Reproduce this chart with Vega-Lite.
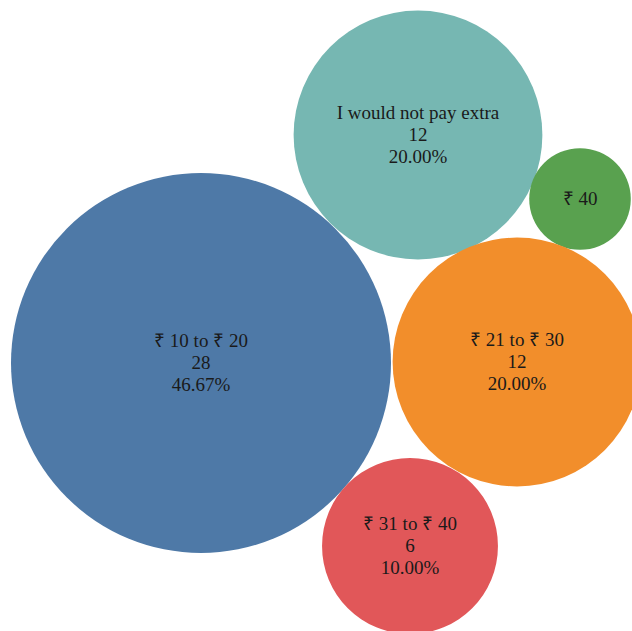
{
  "$schema": "https://vega.github.io/schema/vega-lite/v6.json",
  "autosize": "none",
  "width": 632,
  "height": 631,
  "padding": 0,
  "background": "white",
  "config": {"view": {"stroke": null}},
  "data": {
    "values": [
      {"label": "₹ 10 to ₹ 20", "count": 28, "lines": 3, "text": "₹ 10 to ₹ 20\n28\n46.67%", "cx": 201, "cy": 363},
      {"label": "I would not pay extra", "count": 12, "lines": 3, "text": "I would not pay extra\n12\n20.00%", "cx": 418, "cy": 135},
      {"label": "₹ 40", "count": 2, "lines": 1, "text": "₹ 40", "cx": 580, "cy": 199},
      {"label": "₹ 21 to ₹ 30", "count": 12, "lines": 3, "text": "₹ 21 to ₹ 30\n12\n20.00%", "cx": 517, "cy": 362},
      {"label": "₹ 31 to ₹ 40", "count": 6, "lines": 3, "text": "₹ 31 to ₹ 40\n6\n10.00%", "cx": 410, "cy": 546}
    ]
  },
  "encoding": {
    "x": {"field": "cx", "type": "quantitative", "scale": {"domain": [0, 632], "nice": false, "zero": false}, "axis": null},
    "y": {"field": "cy", "type": "quantitative", "scale": {"domain": [0, 631], "nice": false, "zero": false, "reverse": true}, "axis": null}
  },
  "layer": [
    {
      "mark": {"type": "point", "filled": true, "shape": "circle", "opacity": 1, "strokeWidth": 0},
      "encoding": {
        "size": {"field": "count", "type": "quantitative", "scale": {"type": "linear", "domain": [0, 28], "range": [0, 144400], "zero": true}, "legend": null},
        "color": {
          "field": "label", "type": "nominal",
          "scale": {
            "domain": ["₹ 10 to ₹ 20", "I would not pay extra", "₹ 40", "₹ 21 to ₹ 30", "₹ 31 to ₹ 40"],
            "range": ["#4e79a7", "#76b7b2", "#59a14f", "#f28e2b", "#e15759"]
          },
          "legend": null
        }
      }
    },
    {
      "transform": [{"filter": "datum.lines == 3"}],
      "mark": {"type": "text", "font": "Liberation Serif", "fontSize": 19, "lineHeight": 22, "lineBreak": "\n", "align": "center", "baseline": "middle", "dy": -22, "color": "#1a1a1a"},
      "encoding": {"text": {"field": "text", "type": "nominal"}}
    },
    {
      "transform": [{"filter": "datum.lines == 1"}],
      "mark": {"type": "text", "font": "Liberation Serif", "fontSize": 19, "align": "center", "baseline": "middle", "color": "#1a1a1a"},
      "encoding": {"text": {"field": "text", "type": "nominal"}}
    }
  ]
}
